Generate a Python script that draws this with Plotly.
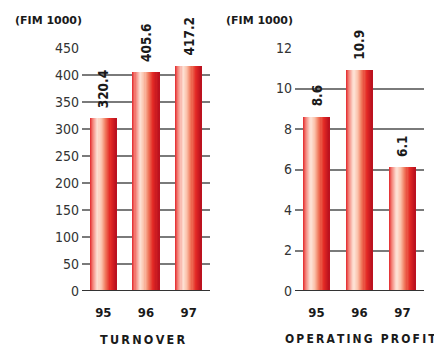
import plotly.graph_objects as go

years = ["95", "96", "97"]
turnover = [320.4, 405.6, 417.2]
op_profit = [8.6, 10.9, 6.1]
turnover_ticks = [0, 50, 100, 150, 200, 250, 300, 350, 400, 450]
profit_ticks = [0, 2, 4, 6, 8, 10, 12]
unit_label = "(FIM 1000)"
titles = ["TURNOVER", "OPERATING PROFIT"]

NARROW = "DejaVu Sans Condensed, sans-serif"
WIDE = "DejaVu Sans, sans-serif"

# page body has an 8px margin; figure is sized to fill the rest of the window
OFF = 8
FW, FH = 442 - OFF, 347 - OFF

def fx(x):
    return (x - OFF) / FW

def fy(y):
    return 1 - (y - OFF) / FH

stops = [(0.0, (226, 38, 42)), (0.12, (244, 132, 122)), (0.30, (253, 226, 214)),
         (0.45, (251, 192, 168)), (0.60, (240, 122, 94)), (0.78, (228, 42, 37)),
         (1.0, (184, 15, 30))]

def grad(t):
    for (p0, c0), (p1, c1) in zip(stops, stops[1:]):
        if p0 <= t <= p1:
            f = (t - p0) / (p1 - p0)
            return "rgb(%d,%d,%d)" % tuple(round(a + (b - a) * f) for a, b in zip(c0, c1))
    return "rgb(%d,%d,%d)" % stops[-1][1]

def spaced(s):
    return "\u2009".join(s)

W = 0.62
N = 24
value_font = dict(family=NARROW, size=13.5, color="#1a1a1a", weight="bold")
fig = go.Figure()
value_annotations = []
for k, (vals, xa, ya) in enumerate([(turnover, "x", "y"), (op_profit, "x2", "y2")]):
    for i in range(N):
        fig.add_trace(go.Bar(x=years, y=vals, xaxis=xa, yaxis=ya,
                             width=W / N * 1.15, offset=-W / 2 + i * W / N,
                             marker=dict(color=grad((i + 0.5) / N), line=dict(width=0)),
                             hoverinfo="skip", showlegend=False))
    for j, v in enumerate(vals):
        value_annotations.append(dict(text="%.1f" % v, x=j, y=v, xref=xa, yref=ya,
                                      textangle=-90, xanchor="center", yanchor="bottom",
                                      yshift=8, showarrow=False, font=value_font))

xcommon = dict(type="category", range=[-0.5, 2.5], showgrid=False, showline=False,
               zeroline=False, ticks="", automargin=False,
               tickfont=dict(family=NARROW, size=13, color="#1a1a1a", weight="bold"),
               ticklabelstandoff=12)
ycommon = dict(showgrid=True, gridcolor="#7a7a7a", gridwidth=2, zeroline=False,
               showline=False, ticks="", automargin=False,
               tickfont=dict(family=NARROW, size=14, color="#333333"),
               ticklabelstandoff=2)

title_font = dict(family=NARROW, size=12.5, color="#1a1a1a", weight="bold")
title_font2 = dict(family=NARROW, size=12, color="#1a1a1a", weight="bold")
unit_font = dict(family=WIDE, size=11, color="#1a1a1a", weight="bold")

ydom = [fy(291), fy(48)]

fig.update_layout(
    width=FW, height=FH, margin=dict(l=0, r=0, t=0, b=0, pad=0),
    paper_bgcolor="white", plot_bgcolor="white", barmode="overlay", bargap=0,
    xaxis=dict(domain=[fx(82), fx(210)], anchor="y", **xcommon),
    xaxis2=dict(domain=[fx(295), fx(424)], anchor="y2", **xcommon),
    yaxis=dict(domain=ydom, range=[0, 450], tickvals=turnover_ticks, anchor="x", **ycommon),
    yaxis2=dict(domain=ydom, range=[0, 12], tickvals=profit_ticks, anchor="x2", **ycommon),
    shapes=[dict(type="line", xref="x domain", yref="y", x0=0, x1=1, y0=0, y1=0,
                 line=dict(color="#333333", width=2)),
            dict(type="line", xref="x2 domain", yref="y2", x0=0, x1=1, y0=0, y1=0,
                 line=dict(color="#333333", width=2))],
    annotations=value_annotations + [
        dict(text=unit_label, xref="paper", yref="paper", x=fx(13), y=fy(20),
             xanchor="left", yanchor="middle", showarrow=False, font=unit_font),
        dict(text=unit_label, xref="paper", yref="paper", x=fx(224), y=fy(20),
             xanchor="left", yanchor="middle", showarrow=False, font=unit_font),
        dict(text=spaced(titles[0]), xref="paper", yref="paper", x=fx(142.5), y=fy(339),
             xanchor="center", yanchor="middle", showarrow=False, font=title_font),
        dict(text=spaced(titles[1]), xref="paper", yref="paper", x=fx(438), y=fy(339),
             xanchor="right", yanchor="middle", showarrow=False, font=title_font2)],
)
fig.write_html("out.html")
